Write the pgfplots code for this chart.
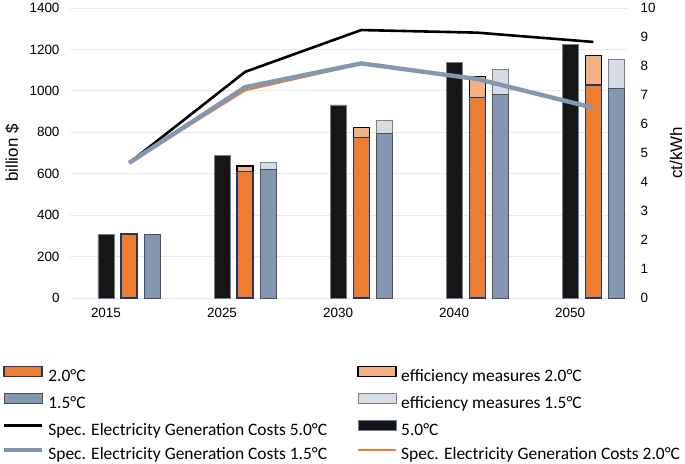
\documentclass[border=0pt]{standalone}
\usepackage{fontspec}
\setmainfont{Liberation Sans}
\newfontfamily\calibri{Carlito}
\usepackage{pgfplots}
\pgfplotsset{compat=1.18}

\definecolor{barblack}{HTML}{161616}
\definecolor{barblackedge}{HTML}{6F7F96}
\definecolor{orng}{HTML}{ED7D31}
\definecolor{navy}{HTML}{203864}
\definecolor{bluegrey}{HTML}{8497B0}
\definecolor{bgedge}{HTML}{505050}
\definecolor{lightorng}{HTML}{F4B183}
\definecolor{lightgrey}{HTML}{D6DCE5}
\definecolor{lgedge}{HTML}{7F7F7F}
\definecolor{gridc}{HTML}{E9E9E9}

\pgfplotsset{
  barleg/.style={legend image code/.code={\draw[##1] (0bp,0.7bp) rectangle (38bp,10.7bp);}},
  lineleg/.style={legend image code/.code={\draw[##1] (0bp,5.7bp) -- (38bp,5.7bp);}},
  common/.style={
    scale only axis, width=557bp, height=290bp,
    at={(70bp,-298bp)}, anchor=south west,
    xmin=-0.51, xmax=4.29, ymin=0,
    axis line style={draw=none}, major tick length=0pt,
    tick label style={font=\fontsize{13.5}{16}\selectfont},
    label style={font=\fontsize{17}{20}\selectfont},
    /pgf/number format/assume math mode=true,
    /pgf/number format/1000 sep={},
  },
  b5/.style={ybar, bar width=16bp, bar shift=-23.2bp, fill=barblack, draw=barblackedge, line width=0.8bp},
  b2/.style={ybar, bar width=16bp, bar shift=0bp, fill=orng, draw=navy, line width=1.5bp},
  e2/.style={ybar, bar width=16bp, bar shift=0bp, fill=lightorng, draw=black, line width=1.5bp},
  b15/.style={ybar, bar width=16bp, bar shift=23.2bp, fill=bluegrey, draw=bgedge, line width=1bp},
  e15/.style={ybar, bar width=16bp, bar shift=23.2bp, fill=lightgrey, draw=lgedge, line width=1bp},
}

\begin{document}
\begin{tikzpicture}
\useasboundingbox (0,0) rectangle (685bp,-464bp);

% investment (billion $), left axis
\begin{axis}[common,
  ymax=1400, ytick={0,200,...,1400},
  ymajorgrids, grid style={gridc, line width=1bp},
  xtick={-0.2,0.8,1.8,2.8,3.8},
  xticklabels={2015,2025,2030,2040,2050},
  xticklabel style={yshift=-7bp},
  yticklabel style={xshift=-7bp},
  ylabel={billion \$},
  ylabel style={at={(axis description cs:-0.104,0.5)}, anchor=center},
]
\addplot[b5] coordinates {(0,305) (1,690) (2,932) (3,1136) (4,1225)};
% totals incl. efficiency measures, drawn first
\addplot[e2] coordinates {(1,637) (2,824) (3,1069) (4,1170)};
\addplot[b2] coordinates {(0,308) (1,610) (2,774) (3,967) (4,1029)};
\addplot[e15] coordinates {(1,652) (2,855) (3,1101) (4,1152)};
\addplot[b15] coordinates {(0,308) (1,618) (2,795) (3,983) (4,1011)};
\end{axis}

% specific generation costs (ct/kWh), right axis
\begin{axis}[common,
  ymax=10, ytick={0,1,...,10},
  axis y line*=right, hide x axis, clip=false,
  yticklabel style={xshift=10bp},
  legend columns=2,
  legend cell align=left,
  legend style={draw=none, fill=none, inner sep=0pt, outer sep=0pt,
    at={(axis description cs:-0.1221,-0.2334)}, anchor=north west,
    font=\calibri\fontsize{17.5}{21}\selectfont,
    nodes={inner sep=0pt, text height=12bp, text depth=4bp},
    row sep=8bp,
    /tikz/every odd column/.append style={column sep=4bp},
    /tikz/every even column/.append style={column sep=30bp},
  },
]
\addplot[black, line width=2.6bp, forget plot] coordinates {(0,4.66) (1,7.80) (2,9.24) (3,9.15) (4,8.83)};
\addplot[orng, line width=2bp, forget plot] coordinates {(0,4.66) (1,7.16) (2,8.07) (3,7.55) (4,6.56)};
\addplot[bluegrey, line width=4.4bp, forget plot] coordinates {(0,4.66) (1,7.27) (2,8.09) (3,7.55) (4,6.56)};

\node[rotate=90, anchor=center, font=\fontsize{17}{20}\selectfont]
  at (axis description cs:1.088,0.5) {ct/kWh};

\addlegendimage{barleg, fill=orng, draw=navy, line width=1.5bp}
\addlegendentry{2.0°C}
\addlegendimage{barleg, fill=lightorng, draw=black, line width=1.5bp}
\addlegendentry{efficiency measures 2.0°C}
\addlegendimage{barleg, fill=bluegrey, draw=bgedge, line width=1bp}
\addlegendentry{1.5°C}
\addlegendimage{barleg, fill=lightgrey, draw=lgedge, line width=1bp}
\addlegendentry{efficiency measures 1.5°C}
\addlegendimage{lineleg, black, line width=2.6bp}
\addlegendentry{Spec. Electricity Generation Costs 5.0°C}
\addlegendimage{barleg, fill=barblack, draw=barblackedge, line width=0.8bp}
\addlegendentry{5.0°C}
\addlegendimage{lineleg, bluegrey, line width=4.4bp}
\addlegendentry{Spec. Electricity Generation Costs 1.5°C}
\addlegendimage{lineleg, orng, line width=2bp}
\addlegendentry{Spec. Electricity Generation Costs 2.0°C}
\end{axis}
\end{tikzpicture}
\end{document}
